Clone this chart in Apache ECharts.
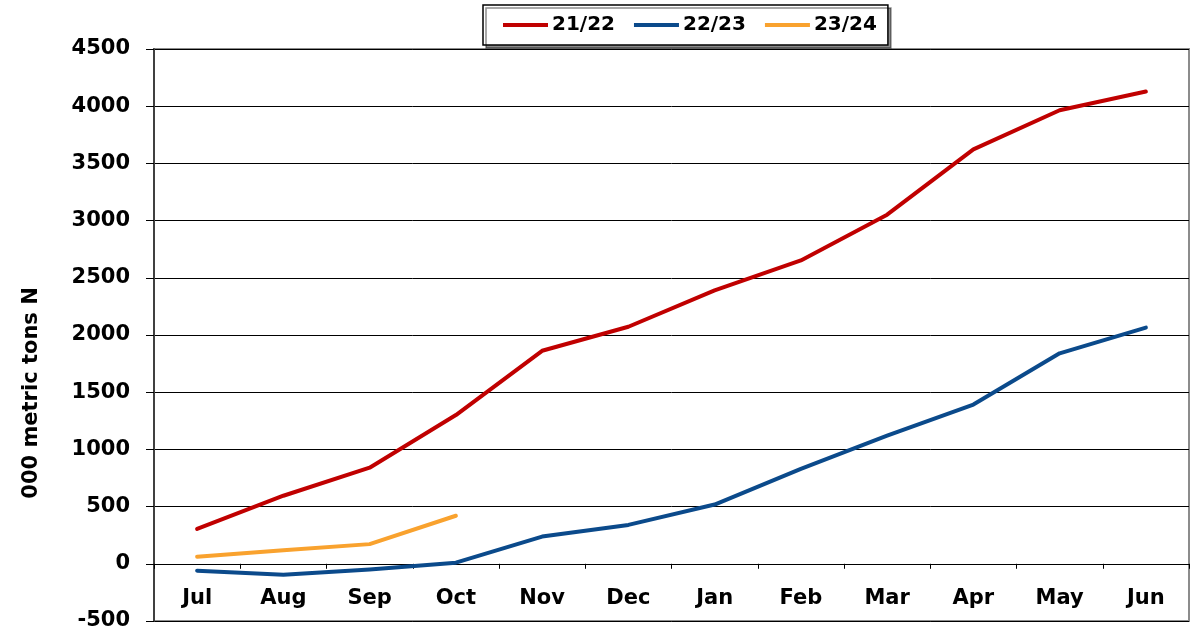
<!DOCTYPE html>
<html>
<head>
<meta charset="utf-8">
<script src="https://cdn.jsdelivr.net/npm/echarts@6/dist/echarts.min.js"></script>
<style>
html, body { margin: 0; padding: 0; background: #fff; }
#main { width: 1201px; height: 630px; }
</style>
</head>
<body>
<div id="main"></div>
<script>
// months of the marketing year
var months = ['Jul', 'Aug', 'Sep', 'Oct', 'Nov', 'Dec', 'Jan', 'Feb', 'Mar', 'Apr', 'May', 'Jun']
// cumulative values, 000 metric tons N
var y2122 = [305, 595, 840, 1300, 1862, 2072, 2390, 2652, 3052, 3622, 3965, 4128]
var y2223 = [-60, -95, -50, 10, 238, 340, 518, 830, 1120, 1392, 1840, 2065]
var y2324 = [62, 118, 172, 420]

var font = 'DejaVu Sans, Arial, sans-serif'
var myChart = echarts.init(document.getElementById('main'))

function line(name, data, color) {
  return {
    name: name,
    type: 'line',
    data: data,
    showSymbol: false,
    symbol: 'none',
    lineStyle: { color: color, width: 4, cap: 'round', join: 'round' },
    itemStyle: { color: color }
  }
}

var option = {
  animation: false,
  backgroundColor: '#fff',
  legend: {
    left: 483,
    top: 5,
    padding: [10, 11, 10, 20],
    borderColor: '#000',
    borderWidth: 1.5,
    shadowColor: 'rgba(0,0,0,0.45)',
    shadowOffsetX: 3,
    shadowOffsetY: 3,
    backgroundColor: '#fff',
    itemGap: 19,
    itemWidth: 45,
    itemHeight: 4,
    icon: 'rect',
    textStyle: { fontFamily: font, fontWeight: 'bold', fontSize: 20, color: '#000', padding: [0, 0, 0, -1] },
    data: ['21/22', '22/23', '23/24']
  },
  grid: {
    left: 154, right: 12, top: 49, bottom: 9,
    outerBoundsMode: 'none',
    show: true,
    borderColor: '#8c8c8c',
    borderWidth: 2
  },
  xAxis: {
    type: 'category',
    data: months,
    boundaryGap: true,
    axisLine: { onZero: true, lineStyle: { color: '#000', width: 1 } },
    axisTick: { show: true, inside: false, length: 5, lineStyle: { color: '#000' } },
    axisLabel: { margin: -33, fontFamily: font, fontWeight: 'bold', fontSize: 21, color: '#000' },
    splitLine: { show: false }
  },
  yAxis: {
    type: 'value',
    min: -500,
    max: 4500,
    interval: 500,
    name: '000 metric tons N',
    nameLocation: 'middle',
    nameRotate: 90,
    nameGap: 112,
    nameTextStyle: { fontFamily: font, fontWeight: 'bold', fontSize: 21, color: '#000', padding: [0, 116, 0, 0] },
    axisLine: { show: true, lineStyle: { color: '#404040', width: 2 } },
    axisTick: { show: true, length: 8, lineStyle: { color: '#000' } },
    axisLabel: {
      margin: 24, fontFamily: font, fontWeight: 'bold', fontSize: 21, color: '#000',
      formatter: function (v) { return String(v) }
    },
    splitLine: { show: true, lineStyle: { color: '#000', width: 1 } }
  },
  series: [
    line('21/22', y2122, '#c00000'),
    line('22/23', y2223, '#0b4a8b'),
    line('23/24', y2324, '#f9a22e')
  ]
}

myChart.setOption(option)
</script>
</body>
</html>
